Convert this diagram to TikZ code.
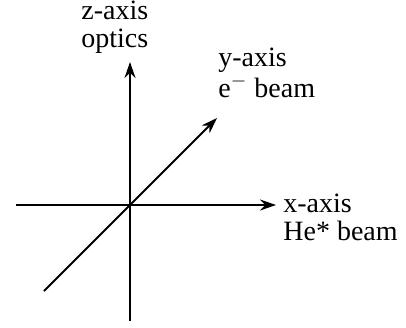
\documentclass[tikz,border=0pt]{standalone}
\usepackage{fontspec}
\setmainfont{Liberation Serif}
\usetikzlibrary{arrows.meta}

\begin{document}
\begin{tikzpicture}[x=0.5pt, y=-0.5pt, >={Stealth[length=8pt,width=5.5pt]},
    axisline/.style={line width=1pt},
    axislabel/.style={anchor=base west, align=left, inner sep=0pt, font=\fontsize{14}{14}\selectfont}]
    \useasboundingbox (0,0) rectangle (406,327);

    % origin and axis ends
    \coordinate (O) at (130,205);
    \coordinate (xstart) at (16,205);
    \coordinate (xend) at (276,205);
    \coordinate (zstart) at (130,321);
    \coordinate (zend) at (130,62);
    \coordinate (ystart) at (44,291);
    \coordinate (yend) at (217,118);

    % axes
    \draw [axisline, ->] (xstart) -- (xend);
    \draw [axisline, ->] (zstart) -- (zend);
    \draw [axisline, ->] (ystart) -- (yend);

    % labels (anchored at the baseline of the last line)
    \node [axislabel] (zlabel) at (81,47) {z-axis\\optics};
    \node [axislabel] (ylabel) at (218,97) {y-axis\\e$^{-}$ beam};
    \node [axislabel] (xlabel) at (283,240) {x-axis\\He* beam};
\end{tikzpicture}
\end{document}
